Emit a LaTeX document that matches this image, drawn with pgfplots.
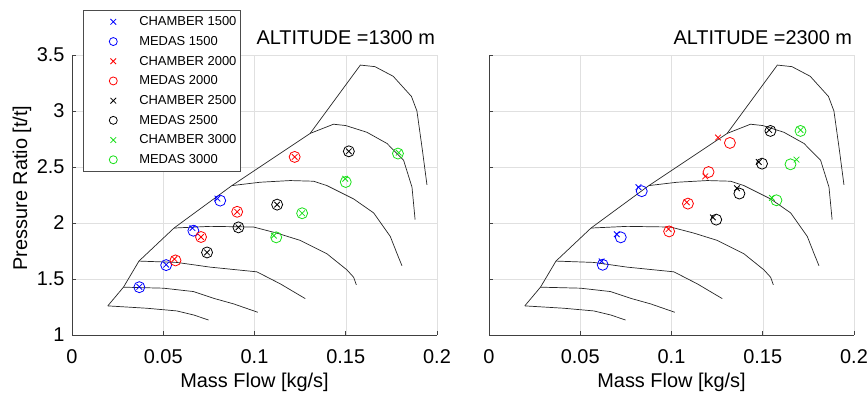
\documentclass[border=0pt]{standalone}
\usepackage{fontspec}
\setmainfont{Liberation Sans}
\usepackage{pgfplots}
\pgfplotsset{compat=1.18}
\definecolor{mblue}{rgb}{0,0,1}
\definecolor{mred}{rgb}{1,0,0}
\definecolor{mgreen}{rgb}{0.1,0.88,0.1}
\pgfplotsset{
  mapline/.style={black!85, line width=0.7bp, forget plot, mark=none},
  chx/.style={only marks, mark=x, mark size=4bp, line width=0.8bp},
  mdo/.style={only marks, mark=o, mark size=5.5bp, line width=0.8bp},
  myaxis/.style={
    scale only axis, width=365bp, height=280bp,
    xmin=0, xmax=0.2, ymin=1, ymax=3.5,
    xtick={0,0.05,0.1,0.15,0.2}, xticklabels={0,0.05,0.1,0.15,0.2},
    ytick={1,1.5,2,2.5,3,3.5},
    grid=major, grid style={black!12, line width=0.5bp},
    axis x line*=bottom, axis y line*=left,
    axis line style={black!75, line width=0.6bp},
    tick align=inside, major tick length=4bp, tick style={black!75, line width=0.6bp},
    tick label style={font=\fontsize{20}{24}\selectfont},
    xticklabel style={anchor=base, yshift=-28bp},
    label style={font=\fontsize{20}{24}\selectfont},
    xlabel={Mass Flow [kg/s]},
    xlabel style={at={(axis description cs:0.5,0)}, anchor=base, yshift=-52bp},
    title style={font=\fontsize{20}{24}\selectfont, at={(axis description cs:1,1)}, anchor=base east, yshift=4.5bp, xshift=1.5bp},
  },
}
\newcommand{\maplines}{%
\addplot[mapline] coordinates {(0.0196,1.26)(0.0409,1.239)(0.0574,1.215)(0.0666,1.179)(0.0748,1.134)};
\addplot[mapline] coordinates {(0.0282,1.427)(0.0501,1.418)(0.0665,1.388)(0.0775,1.328)(0.0885,1.278)(0.1018,1.203)};
\addplot[mapline] coordinates {(0.0367,1.66)(0.0574,1.648)(0.0757,1.606)(0.1013,1.564)(0.1141,1.457)(0.1278,1.325)};
\addplot[mapline] coordinates {(0.0559,1.955)(0.0757,1.97)(0.0995,1.964)(0.1122,1.91)(0.125,1.845)(0.1397,1.725)(0.1506,1.582)(0.1543,1.516)(0.1558,1.448)};
\addplot[mapline] coordinates {(0.0876,2.334)(0.1031,2.364)(0.1196,2.379)(0.1324,2.373)(0.1397,2.334)(0.1543,2.215)(0.1653,2.09)(0.1744,1.88)(0.178,1.731)(0.1808,1.618)};
\addplot[mapline] coordinates {(0.1305,2.80)(0.1433,2.882)(0.150,2.87)(0.1616,2.81)(0.1726,2.71)(0.1817,2.56)(0.1863,2.32)(0.188,2.03)};
\addplot[mapline] coordinates {(0.0196,1.26)(0.0282,1.427)(0.0367,1.66)(0.0559,1.955)(0.0876,2.334)(0.1305,2.80)(0.158,3.41)(0.166,3.396)(0.176,3.31)(0.186,3.13)(0.189,3.0)(0.192,2.65)(0.1945,2.34)};
}
\begin{document}
\begin{tikzpicture}
\path[use as bounding box] (0,0) rectangle (868bp,394bp);
\begin{axis}[myaxis, at={(72bp,59bp)}, anchor=south west,
  yticklabels={1,1.5,2,2.5,3,3.5},
  yticklabel style={xshift=-4bp},
  ylabel={Pressure Ratio [t/t]},
  ylabel style={at={(axis description cs:-0.137,0.525)}, anchor=center},
  title={ALTITUDE =1300 m},
  legend style={at={(axis description cs:0.0293,1.16)}, anchor=north west,
    draw=black!70, line width=0.6bp, fill=white, inner sep=1.5bp, row sep=0bp,
    font=\fontsize{13}{13}\selectfont,
    nodes={inner xsep=2.6bp, inner ysep=0bp}},
  legend cell align=left,
  legend image code/.code={%
    \path[draw=none, fill=none] (-28.8bp,-9.85bp) rectangle (23.4bp,9.85bp);
    \draw[#1, mark size=4bp] plot coordinates {(0bp,0bp)};},
]
\maplines
\addplot[chx, mblue] coordinates {(0.0369,1.43)(0.0516,1.628)(0.066,1.955)(0.0797,2.218)};
\addplot[mdo, mblue] coordinates {(0.0369,1.427)(0.0516,1.624)(0.0665,1.931)(0.0812,2.20)};
\addplot[chx, mred] coordinates {(0.0561,1.678)(0.0707,1.875)(0.0905,2.10)(0.122,2.59)};
\addplot[mdo, mred] coordinates {(0.0567,1.666)(0.0707,1.875)(0.0905,2.10)(0.122,2.59)};
\addplot[chx, black] coordinates {(0.074,1.737)(0.0912,1.961)(0.1124,2.164)(0.1517,2.64)};
\addplot[mdo, black] coordinates {(0.074,1.737)(0.0912,1.961)(0.1124,2.164)(0.1517,2.64)};
\addplot[chx, mgreen] coordinates {(0.1106,1.887)(0.1261,2.087)(0.1497,2.395)(0.179,2.628)};
\addplot[mdo, mgreen] coordinates {(0.1119,1.872)(0.1261,2.087)(0.150,2.366)(0.1786,2.62)};
\legend{CHAMBER 1500,MEDAS 1500,CHAMBER 2000,MEDAS 2000,CHAMBER 2500,MEDAS 2500,CHAMBER 3000,MEDAS 3000}
\end{axis}
\begin{axis}[myaxis, at={(489bp,59bp)}, anchor=south west,
  yticklabels={},
  title={ALTITUDE =2300 m},
]
\maplines
\addplot[chx, mblue] coordinates {(0.0617,1.657)(0.070,1.90)(0.0819,2.32)};
\addplot[mdo, mblue] coordinates {(0.0623,1.627)(0.0722,1.872)(0.0837,2.284)};
\addplot[chx, mred] coordinates {(0.0984,1.946)(0.1084,2.185)(0.1185,2.416)(0.1255,2.763)};
\addplot[mdo, mred] coordinates {(0.0987,1.925)(0.109,2.173)(0.1203,2.455)(0.132,2.715)};
\addplot[chx, black] coordinates {(0.1227,2.05)(0.1359,2.31)(0.1478,2.545)(0.1535,2.83)};
\addplot[mdo, black] coordinates {(0.1245,2.03)(0.1372,2.263)(0.1496,2.53)(0.1542,2.822)};
\addplot[chx, mgreen] coordinates {(0.155,2.224)(0.1685,2.566)(0.1707,2.83)};
\addplot[mdo, mgreen] coordinates {(0.1575,2.203)(0.1652,2.524)(0.1707,2.822)};
\end{axis}
\end{tikzpicture}
\end{document}
